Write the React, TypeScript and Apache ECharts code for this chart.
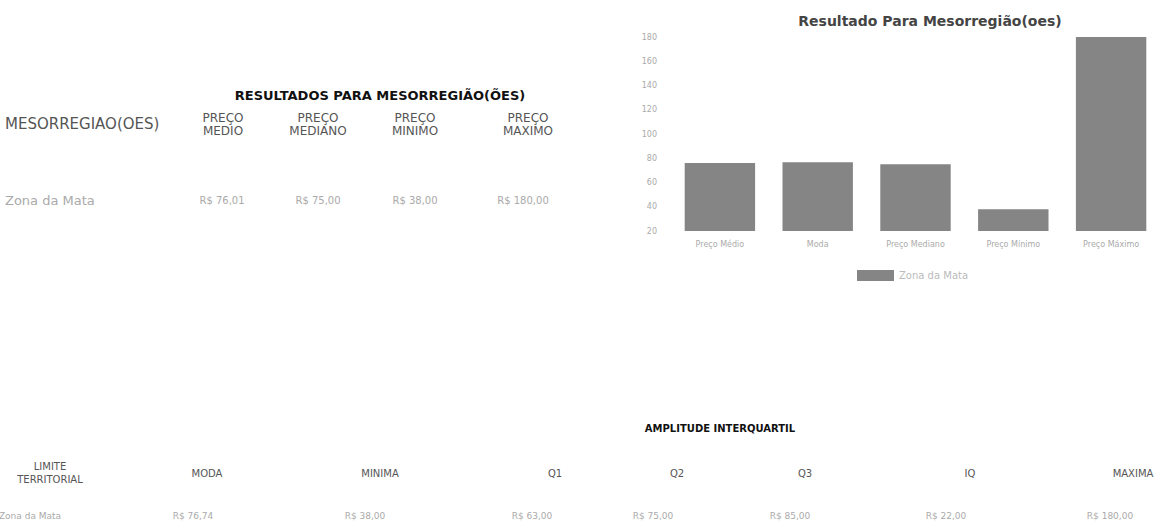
import React, { useEffect, useRef } from "react";
import * as echarts from "echarts";

// ---- Data ----
const chartTitle = "Resultado Para Mesorregião(oes)";
const seriesName = "Zona da Mata";
const categories = ["Preço Médio", "Moda", "Preço Mediano", "Preço Mínimo", "Preço Máximo"];
const values = [76.01, 76.74, 75, 38, 180];

const topTableTitle = "RESULTADOS PARA MESORREGIÃO(ÕES)";
const topHeaders = ["MESORREGIAO(OES)", "PREÇO\nMEDIO", "PREÇO\nMEDIANO", "PREÇO\nMINIMO", "PREÇO\nMAXIMO"];
const topRow = ["Zona da Mata", "R$ 76,01", "R$ 75,00", "R$ 38,00", "R$ 180,00"];

const bottomTableTitle = "AMPLITUDE INTERQUARTIL";
const bottomHeaders = ["LIMITE\nTERRITORIAL", "MODA", "MINIMA", "Q1", "Q2", "Q3", "IQ", "MAXIMA"];
const bottomRow = ["Zona da Mata", "R$ 76,74", "R$ 38,00", "R$ 63,00", "R$ 75,00", "R$ 85,00", "R$ 22,00", "R$ 180,00"];

// ---- Layout ----
const FONT = "'DejaVu Sans', sans-serif";
const topHeaderX = [5, 223, 318, 415, 528];
const topRowX = [5, 222, 318, 415, 523];
const bottomHeaderX = [50, 207, 380, 555, 677, 805, 970, 1133];
const bottomRowX = [30, 193, 365, 532, 653, 790, 946, 1110];

function txt(text: string, x: number, y: number, font: string, fill: string, align = "center") {
  return {
    type: "text",
    x,
    y,
    silent: true,
    style: { text, font, fill, align, verticalAlign: "middle", lineHeight: 13 },
  };
}

export default function App() {
  const ref = useRef<HTMLDivElement>(null);
  useEffect(() => {
    if (!ref.current) return;
    const chart = echarts.init(ref.current, null, { renderer: "svg" });
    const graphics: any[] = [];
    graphics.push(txt(topTableTitle, 380, 95, `900 13px ${FONT}`, "#111"));
    topHeaders.forEach((h, i) =>
      graphics.push(
        txt(h, topHeaderX[i], 124, i === 0 ? `15px ${FONT}` : `12px ${FONT}`, "#555", i === 0 ? "left" : "center")
      )
    );
    topRow.forEach((v, i) =>
      graphics.push(
        txt(v, topRowX[i], 200, i === 0 ? `13px ${FONT}` : `10px ${FONT}`, "#aaa", i === 0 ? "left" : "center")
      )
    );
    graphics.push(txt(bottomTableTitle, 720, 428, `900 10px ${FONT}`, "#111"));
    bottomHeaders.forEach((h, i) => graphics.push(txt(h, bottomHeaderX[i], 473, `10px ${FONT}`, "#555")));
    bottomRow.forEach((v, i) => graphics.push(txt(v, bottomRowX[i], 516, `9px ${FONT}`, "#aaa")));

    chart.setOption({
      animation: false,
      title: {
        text: chartTitle,
        left: 925,
        textAlign: "center",
        top: 9,
        textStyle: { fontFamily: FONT, fontSize: 14, fontWeight: "bold", color: "#444" },
      },
      legend: {
        data: [seriesName],
        left: 852,
        top: 265,
        itemWidth: 37,
        itemHeight: 11,
        itemGap: 10,
        textStyle: { fontFamily: FONT, fontSize: 10, color: "#bbb" },
        icon: "rect",
      },
      grid: { left: 671, right: -13, top: 37, bottom: 298, containLabel: false },
      xAxis: {
        type: "category",
        data: categories,
        axisLine: { show: false },
        axisTick: { show: false },
        axisLabel: { fontFamily: FONT, fontSize: 8, color: "#aaa", margin: 9, interval: 0 },
      },
      yAxis: {
        type: "value",
        min: 20,
        max: 180,
        interval: 20,
        axisLine: { show: false },
        axisTick: { show: false },
        splitLine: { show: false },
        axisLabel: { fontFamily: FONT, fontSize: 8, color: "#aaa", margin: 14 },
      },
      series: [
        {
          name: seriesName,
          type: "bar",
          data: values,
          barWidth: "72%",
          itemStyle: { color: "#858585" },
        },
      ],
      graphic: graphics,
    });
    return () => chart.dispose();
  }, []);
  return (
    <div
      style={{ position: "fixed", left: 0, top: 0, width: 1160, height: 529, overflow: "hidden", background: "#fff" }}
    >
      <div ref={ref} style={{ width: 1160, height: 529 }} />
    </div>
  );
}
